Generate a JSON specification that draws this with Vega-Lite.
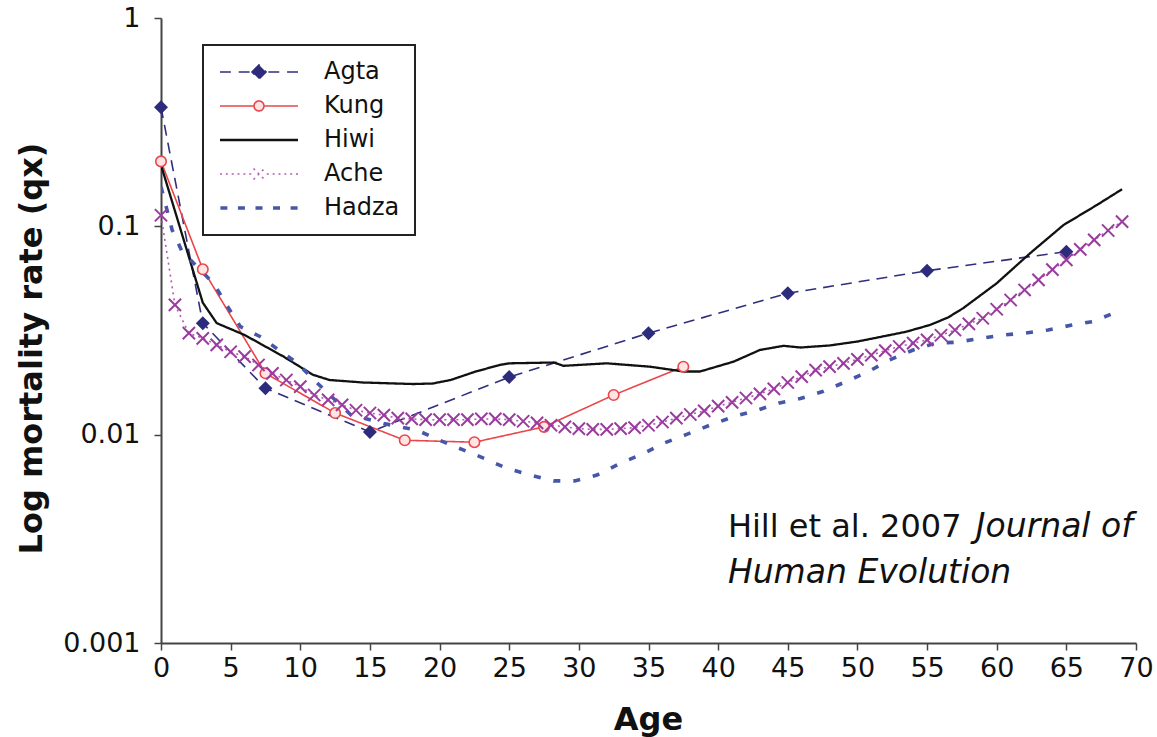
{
  "$schema": "https://vega.github.io/schema/vega-lite/v6.json",
  "autosize": {"type": "none"},
  "padding": {"left": 161, "top": 18, "right": 21, "bottom": 94},
  "width": 975,
  "height": 625,
  "background": "white",
  "config": {
    "view": {"stroke": null},
    "font": "DejaVu Sans",
    "axis": {
      "grid": false,
      "domainColor": "#444444",
      "domainWidth": 2,
      "tickColor": "#444444",
      "tickWidth": 1.5,
      "tickSize": 7,
      "labelFont": "DejaVu Sans",
      "labelFontSize": 27,
      "labelColor": "#111111",
      "titleFont": "DejaVu Sans",
      "titleFontWeight": "bold",
      "titleColor": "#111111"
    }
  },
  "data": {
    "values": [
      {"series": "Agta", "age": 0, "qx": 0.373},
      {"series": "Agta", "age": 3, "qx": 0.0343},
      {"series": "Agta", "age": 7.5, "qx": 0.0167},
      {"series": "Agta", "age": 15, "qx": 0.0103},
      {"series": "Agta", "age": 25, "qx": 0.0189},
      {"series": "Agta", "age": 35, "qx": 0.0307},
      {"series": "Agta", "age": 45, "qx": 0.0477},
      {"series": "Agta", "age": 55, "qx": 0.0612},
      {"series": "Agta", "age": 65, "qx": 0.0756},
      {"series": "Kung", "age": 0, "qx": 0.205},
      {"series": "Kung", "age": 3, "qx": 0.0622},
      {"series": "Kung", "age": 7.5, "qx": 0.0197},
      {"series": "Kung", "age": 12.5, "qx": 0.0127},
      {"series": "Kung", "age": 17.5, "qx": 0.0094},
      {"series": "Kung", "age": 22.5, "qx": 0.0092},
      {"series": "Kung", "age": 27.5, "qx": 0.0109},
      {"series": "Kung", "age": 32.5, "qx": 0.0155},
      {"series": "Kung", "age": 37.5, "qx": 0.0212},
      {"series": "Hiwi", "age": 0, "qx": 0.197},
      {"series": "Hiwi", "age": 3, "qx": 0.043},
      {"series": "Hiwi", "age": 4, "qx": 0.0343},
      {"series": "Hiwi", "age": 6, "qx": 0.0301},
      {"series": "Hiwi", "age": 8.8, "qx": 0.0237},
      {"series": "Hiwi", "age": 10.9, "qx": 0.0194},
      {"series": "Hiwi", "age": 12.1, "qx": 0.0183},
      {"series": "Hiwi", "age": 14.5, "qx": 0.0178},
      {"series": "Hiwi", "age": 18.1, "qx": 0.0175},
      {"series": "Hiwi", "age": 19.5, "qx": 0.0176},
      {"series": "Hiwi", "age": 20.8, "qx": 0.0183},
      {"series": "Hiwi", "age": 22.5, "qx": 0.02},
      {"series": "Hiwi", "age": 24.3, "qx": 0.0216},
      {"series": "Hiwi", "age": 25, "qx": 0.022},
      {"series": "Hiwi", "age": 28.2, "qx": 0.0222},
      {"series": "Hiwi", "age": 28.9, "qx": 0.0214},
      {"series": "Hiwi", "age": 32, "qx": 0.022},
      {"series": "Hiwi", "age": 35.1, "qx": 0.0212},
      {"series": "Hiwi", "age": 37.5, "qx": 0.0201},
      {"series": "Hiwi", "age": 38.7, "qx": 0.0201},
      {"series": "Hiwi", "age": 41.1, "qx": 0.0224},
      {"series": "Hiwi", "age": 43, "qx": 0.0255},
      {"series": "Hiwi", "age": 44.7, "qx": 0.0267},
      {"series": "Hiwi", "age": 45.9, "qx": 0.0262},
      {"series": "Hiwi", "age": 48, "qx": 0.0268},
      {"series": "Hiwi", "age": 50, "qx": 0.028},
      {"series": "Hiwi", "age": 51.6, "qx": 0.0294},
      {"series": "Hiwi", "age": 53.5, "qx": 0.0312},
      {"series": "Hiwi", "age": 55.2, "qx": 0.0336},
      {"series": "Hiwi", "age": 56.5, "qx": 0.0365},
      {"series": "Hiwi", "age": 57.6, "qx": 0.0405},
      {"series": "Hiwi", "age": 60, "qx": 0.0533},
      {"series": "Hiwi", "age": 62.4, "qx": 0.0743},
      {"series": "Hiwi", "age": 64.8, "qx": 0.1015},
      {"series": "Hiwi", "age": 67.2, "qx": 0.1267},
      {"series": "Hiwi", "age": 69, "qx": 0.1507},
      {"series": "Ache", "age": 0, "qx": 0.113},
      {"series": "Ache", "age": 1, "qx": 0.042},
      {"series": "Ache", "age": 2, "qx": 0.0307},
      {"series": "Ache", "age": 3, "qx": 0.029},
      {"series": "Ache", "age": 4, "qx": 0.027},
      {"series": "Ache", "age": 5, "qx": 0.025},
      {"series": "Ache", "age": 6, "qx": 0.0237},
      {"series": "Ache", "age": 7, "qx": 0.0216},
      {"series": "Ache", "age": 8, "qx": 0.0197},
      {"series": "Ache", "age": 9, "qx": 0.0183},
      {"series": "Ache", "age": 10, "qx": 0.017},
      {"series": "Ache", "age": 11, "qx": 0.0155},
      {"series": "Ache", "age": 12, "qx": 0.0147},
      {"series": "Ache", "age": 13, "qx": 0.0139},
      {"series": "Ache", "age": 14, "qx": 0.0131},
      {"series": "Ache", "age": 15, "qx": 0.0127},
      {"series": "Ache", "age": 16, "qx": 0.0124},
      {"series": "Ache", "age": 17, "qx": 0.012},
      {"series": "Ache", "age": 18, "qx": 0.0119},
      {"series": "Ache", "age": 19, "qx": 0.0118},
      {"series": "Ache", "age": 20, "qx": 0.0118},
      {"series": "Ache", "age": 21, "qx": 0.0118},
      {"series": "Ache", "age": 22, "qx": 0.0118},
      {"series": "Ache", "age": 23, "qx": 0.0119},
      {"series": "Ache", "age": 24, "qx": 0.0119},
      {"series": "Ache", "age": 25, "qx": 0.0118},
      {"series": "Ache", "age": 26, "qx": 0.0116},
      {"series": "Ache", "age": 27, "qx": 0.0114},
      {"series": "Ache", "age": 28, "qx": 0.0111},
      {"series": "Ache", "age": 29, "qx": 0.0109},
      {"series": "Ache", "age": 30, "qx": 0.0107},
      {"series": "Ache", "age": 31, "qx": 0.0106},
      {"series": "Ache", "age": 32, "qx": 0.0106},
      {"series": "Ache", "age": 33, "qx": 0.0107},
      {"series": "Ache", "age": 34, "qx": 0.0108},
      {"series": "Ache", "age": 35, "qx": 0.0111},
      {"series": "Ache", "age": 36, "qx": 0.0115},
      {"series": "Ache", "age": 37, "qx": 0.012},
      {"series": "Ache", "age": 38, "qx": 0.0125},
      {"series": "Ache", "age": 39, "qx": 0.013},
      {"series": "Ache", "age": 40, "qx": 0.0137},
      {"series": "Ache", "age": 41, "qx": 0.0143},
      {"series": "Ache", "age": 42, "qx": 0.015},
      {"series": "Ache", "age": 43, "qx": 0.0157},
      {"series": "Ache", "age": 44, "qx": 0.0166},
      {"series": "Ache", "age": 45, "qx": 0.0178},
      {"series": "Ache", "age": 46, "qx": 0.019},
      {"series": "Ache", "age": 47, "qx": 0.0204},
      {"series": "Ache", "age": 48, "qx": 0.0212},
      {"series": "Ache", "age": 49, "qx": 0.022},
      {"series": "Ache", "age": 50, "qx": 0.023},
      {"series": "Ache", "age": 51, "qx": 0.0241},
      {"series": "Ache", "age": 52, "qx": 0.0253},
      {"series": "Ache", "age": 53, "qx": 0.0265},
      {"series": "Ache", "age": 54, "qx": 0.0275},
      {"series": "Ache", "age": 55, "qx": 0.0285},
      {"series": "Ache", "age": 56, "qx": 0.03},
      {"series": "Ache", "age": 57, "qx": 0.0318},
      {"series": "Ache", "age": 58, "qx": 0.034},
      {"series": "Ache", "age": 59, "qx": 0.0362},
      {"series": "Ache", "age": 60, "qx": 0.04},
      {"series": "Ache", "age": 61, "qx": 0.0443},
      {"series": "Ache", "age": 62, "qx": 0.0495},
      {"series": "Ache", "age": 63, "qx": 0.0553},
      {"series": "Ache", "age": 64, "qx": 0.062},
      {"series": "Ache", "age": 65, "qx": 0.069},
      {"series": "Ache", "age": 66, "qx": 0.0775},
      {"series": "Ache", "age": 67, "qx": 0.0861},
      {"series": "Ache", "age": 68, "qx": 0.0955},
      {"series": "Ache", "age": 69, "qx": 0.1054},
      {"series": "Hadza", "age": 0, "qx": 0.155},
      {"series": "Hadza", "age": 0.8, "qx": 0.096},
      {"series": "Hadza", "age": 1.5, "qx": 0.076},
      {"series": "Hadza", "age": 3.8, "qx": 0.053},
      {"series": "Hadza", "age": 4.7, "qx": 0.042},
      {"series": "Hadza", "age": 5.7, "qx": 0.033},
      {"series": "Hadza", "age": 7.1, "qx": 0.0296},
      {"series": "Hadza", "age": 9.8, "qx": 0.022},
      {"series": "Hadza", "age": 11.1, "qx": 0.018},
      {"series": "Hadza", "age": 13.6, "qx": 0.0125},
      {"series": "Hadza", "age": 16, "qx": 0.0113},
      {"series": "Hadza", "age": 18.4, "qx": 0.0105},
      {"series": "Hadza", "age": 20, "qx": 0.0094},
      {"series": "Hadza", "age": 21.6, "qx": 0.0085},
      {"series": "Hadza", "age": 23.2, "qx": 0.0077},
      {"series": "Hadza", "age": 24.8, "qx": 0.0069},
      {"series": "Hadza", "age": 26.5, "qx": 0.0064},
      {"series": "Hadza", "age": 28.2, "qx": 0.006},
      {"series": "Hadza", "age": 29.7, "qx": 0.006},
      {"series": "Hadza", "age": 31.3, "qx": 0.0064},
      {"series": "Hadza", "age": 33, "qx": 0.0073},
      {"series": "Hadza", "age": 34.6, "qx": 0.0081},
      {"series": "Hadza", "age": 36.1, "qx": 0.0091},
      {"series": "Hadza", "age": 37.7, "qx": 0.01},
      {"series": "Hadza", "age": 39.4, "qx": 0.0111},
      {"series": "Hadza", "age": 41.1, "qx": 0.0122},
      {"series": "Hadza", "age": 42.8, "qx": 0.0131},
      {"series": "Hadza", "age": 44.4, "qx": 0.0142},
      {"series": "Hadza", "age": 45.9, "qx": 0.0149},
      {"series": "Hadza", "age": 47.5, "qx": 0.0161},
      {"series": "Hadza", "age": 49.2, "qx": 0.018},
      {"series": "Hadza", "age": 50.8, "qx": 0.0201},
      {"series": "Hadza", "age": 52.3, "qx": 0.0228},
      {"series": "Hadza", "age": 54, "qx": 0.0255},
      {"series": "Hadza", "age": 55.6, "qx": 0.0275},
      {"series": "Hadza", "age": 57.2, "qx": 0.0278},
      {"series": "Hadza", "age": 58.8, "qx": 0.029},
      {"series": "Hadza", "age": 60.5, "qx": 0.0301},
      {"series": "Hadza", "age": 62, "qx": 0.0307},
      {"series": "Hadza", "age": 63.7, "qx": 0.0318},
      {"series": "Hadza", "age": 65.4, "qx": 0.0336},
      {"series": "Hadza", "age": 66.9, "qx": 0.0349},
      {"series": "Hadza", "age": 68.7, "qx": 0.039}
    ]
  },
  "encoding": {
    "x": {
      "field": "age",
      "type": "quantitative",
      "scale": {"domain": [0, 70], "nice": false, "zero": false},
      "axis": {
        "title": "Age",
        "values": [0, 5, 10, 15, 20, 25, 30, 35, 40, 45, 50, 55, 60, 65, 70],
        "labelPadding": 5,
        "labelFlush": false,
        "labelOverlap": false,
        "titleFontSize": 32,
        "titleX": 487,
        "titleY": 76,
        "titleBaseline": "middle",
        "titleAlign": "center"
      }
    },
    "y": {
      "field": "qx",
      "type": "quantitative",
      "scale": {"type": "log", "domain": [0.001, 1], "nice": false},
      "axis": {
        "title": "Log mortality rate (qx)",
        "values": [0.001, 0.01, 0.1, 1],
        "format": "~g",
        "labelPadding": 14,
        "labelFlush": false,
        "labelOverlap": false,
        "titleFontSize": 32,
        "titleX": -130,
        "titleY": 330,
        "titleAngle": 270,
        "titleBaseline": "middle",
        "titleAlign": "center"
      }
    }
  },
  "layer": [
    {
      "mark": {"type": "line", "clip": true},
      "encoding": {
        "detail": {"field": "series"},
        "order": {"field": "age", "type": "quantitative"},
        "stroke": {
          "field": "series",
          "type": "nominal",
          "scale": {
            "domain": ["Agta", "Kung", "Hiwi", "Ache", "Hadza"],
            "range": ["#2f2f7c", "#e8464b", "#111111", "#b25ab4", "#4757a8"]
          },
          "legend": {
            "title": null,
            "orient": "none",
            "legendX": 42,
            "legendY": 27,
            "padding": 15,
            "rowPadding": 10,
            "clipHeight": 24,
            "labelOffset": 24,
            "labelFont": "DejaVu Sans",
            "labelFontSize": 24,
            "labelColor": "#111111",
            "symbolSize": 6084,
            "symbolStrokeWidth": 2,
            "strokeColor": "#222222",
            "fillColor": "white",
            "encode": {
              "legend": {
                "update": {
                  "strokeWidth": {"value": 2}
                }
              },
              "symbols": {
                "update": {
                  "shape": {"signal": "datum.value==='Agta' ? 'M-1,0H-0.72M-0.52,0H-0.24M0.24,0H0.52M0.72,0H1M-0.18,0L0,-0.18L0.18,0L0,0.18Z' : datum.value==='Kung' ? 'M-1,0H-0.13M0.13,0H1M0.13,0L0.113,0.065L0.065,0.113L0,0.13L-0.065,0.113L-0.113,0.065L-0.13,0L-0.113,-0.065L-0.065,-0.113L0,-0.13L0.065,-0.113L0.113,-0.065Z' : datum.value==='Hiwi' ? 'M-1,0H1' : datum.value==='Ache' ? 'M-1,0H-0.95M-0.85,0H-0.8M-0.7,0H-0.65M-0.55,0H-0.5M-0.4,0H-0.35M-0.25,0H-0.2M-0.14,-0.14L0.14,0.14M-0.14,0.14L0.14,-0.14M0.2,0H0.25M0.35,0H0.4M0.5,0H0.55M0.65,0H0.7M0.8,0H0.85M0.95,0H1' : 'M-0.99,0H-0.81M-0.54,0H-0.36M-0.09,0H0.09M0.36,0H0.54M0.81,0H0.99'"},
                  "fill": {"signal": "datum.value==='Agta' ? '#2d2c7c' : datum.value==='Kung' ? '#ffe4e4' : 'transparent'"},
                  "strokeWidth": {"signal": "datum.value==='Hiwi' ? 3 : datum.value==='Hadza' ? 3.5 : datum.value==='Ache' ? 2 : 1.6"},
                  "strokeDash": {"value": []}
                }
              }
            }
          }
        },
        "strokeDash": {
          "field": "series",
          "type": "nominal",
          "scale": {
            "type": "ordinal",
            "domain": ["Agta", "Kung", "Hiwi", "Ache", "Hadza"],
            "range": [[11, 7], [1, 0], [1, 0], [2, 4], [7, 13]]
          },
          "legend": null
        },
        "strokeWidth": {
          "field": "series",
          "type": "nominal",
          "scale": {
            "type": "ordinal",
            "domain": ["Agta", "Kung", "Hiwi", "Ache", "Hadza"],
            "range": [1.6, 1.6, 2.3, 1.6, 3.6]
          },
          "legend": null
        }
      }
    },
    {
      "transform": [{"filter": "datum.series === 'Agta'"}],
      "mark": {"type": "point", "shape": "diamond", "filled": true, "color": "#2d2c7c", "size": 196, "opacity": 1}
    },
    {
      "transform": [{"filter": "datum.series === 'Kung'"}],
      "mark": {"type": "point", "shape": "circle", "filled": true, "fill": "#ffe4e4", "stroke": "#e8464b", "strokeWidth": 1.6, "size": 110, "opacity": 1}
    },
    {
      "transform": [{"filter": "datum.series === 'Ache'"}],
      "mark": {"type": "point", "shape": "M-1,-1L1,1M-1,1L1,-1", "filled": false, "stroke": "#9a3c9e", "strokeWidth": 2, "size": 150, "opacity": 1}
    },
    {
      "transform": [{"filter": "datum.series === 'Agta' && datum.age === 0"}],
      "mark": {"type": "text", "text": "Hill et al. 2007", "align": "left", "baseline": "alphabetic", "font": "DejaVu Sans", "fontSize": 32, "fill": "#111111"},
      "encoding": {"x": {"datum": 40.7}, "y": {"datum": 0.00323}}
    },
    {
      "transform": [{"filter": "datum.series === 'Agta' && datum.age === 0"}],
      "mark": {"type": "text", "text": "Journal of", "align": "left", "baseline": "alphabetic", "font": "DejaVu Sans", "fontStyle": "italic", "fontSize": 33, "fill": "#111111"},
      "encoding": {"x": {"datum": 58.5}, "y": {"datum": 0.00323}}
    },
    {
      "transform": [{"filter": "datum.series === 'Agta' && datum.age === 0"}],
      "mark": {"type": "text", "text": "Human Evolution", "align": "left", "baseline": "alphabetic", "font": "DejaVu Sans", "fontStyle": "italic", "fontSize": 33, "fill": "#111111"},
      "encoding": {"x": {"datum": 40.7}, "y": {"datum": 0.00194}}
    }
  ]
}
